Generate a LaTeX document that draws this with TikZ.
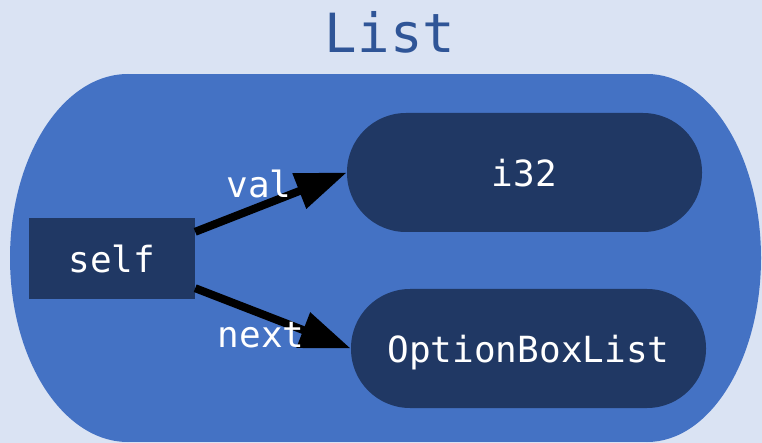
\documentclass[tikz,border=0pt]{standalone}
\usepackage{fontspec}
\setmonofont{DejaVu Sans Mono}
\usetikzlibrary{arrows.meta}
\definecolor{pagebg}{HTML}{DAE3F3}
\definecolor{clusterblue}{HTML}{4472C4}
\definecolor{nodedark}{HTML}{203864}
\definecolor{titleblue}{HTML}{2F5597}
\tikzset{
  label font/.style={font=\ttfamily\fontsize{36}{40}\selectfont},
  selfbox/.style={label font, fill=nodedark, text=white, inner sep=0pt,
    minimum width=166pt, minimum height=81pt, text depth=0pt},
  pill/.style={label font, fill=nodedark, text=white, inner sep=0pt,
    minimum width=355pt, minimum height=119pt, rounded corners=59pt, text depth=0pt},
  edgelabel/.style={label font, text=white, inner sep=0pt, anchor=base},
  titletext/.style={font=\ttfamily\fontsize{54}{60}\selectfont, text=titleblue,
    inner sep=0pt, anchor=base},
  link/.style={line width=8pt, draw=black, -{Triangle[length=51pt, width=36pt]}},
}
\begin{document}
\begin{tikzpicture}[x=1pt, y=-1pt]
  \useasboundingbox (0,0) rectangle (762,443);
  \fill[pagebg] (0,0) rectangle (762,443);
  % cluster outline: rectangle with elliptical ends
  \begin{scope}
    \clip (0,0) rectangle (762,443);
    \fill[clusterblue] (128,258) ellipse [x radius=118, y radius=184];
    \fill[clusterblue] (647,258) ellipse [x radius=114, y radius=184];
    \fill[clusterblue] (128,74) rectangle (647,442);
  \end{scope}
  \node[titletext] (title) at (390,53) {List};
  \node[selfbox] (self) at (112,258.5) {self};
  \node[pill] (i32) at (524.5,172.5) {i32};
  \node[pill] (obl) at (528.5,348.5) {OptionBoxList};
  \draw[link] ([yshift=-14pt]self.north east) -- (i32.west);
  \draw[link] ([yshift=11pt]self.south east) -- (obl.west);
  \node[edgelabel] (lval) at (259,198) {val};
  \node[edgelabel] (lnext) at (261,347) {next};
\end{tikzpicture}
\end{document}
